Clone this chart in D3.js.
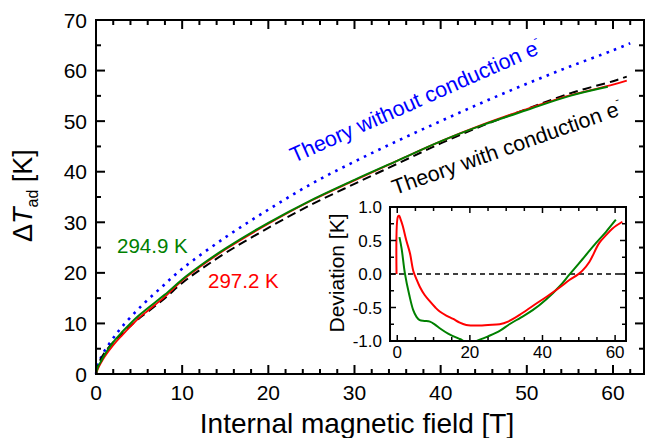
<!DOCTYPE html>
<html>
<head>
<meta charset="utf-8">
<script src="https://cdn.jsdelivr.net/npm/d3@7"></script>
<style>
  body { margin: 0; background: #fff; }
  text { font-family: Arial, "Liberation Sans", sans-serif; }
</style>
</head>
<body>
<script>
// main plot data (field in T, dT in K)
let theoryWithB = [0, 0.25, 0.5, 1, 2, 3, 4, 5, 6, 8, 10, 12, 15, 20, 25, 30, 35, 40, 45, 50, 55, 60, 61.6]
let theoryWith  = [0, 1.8, 2.8, 4.2, 6.3, 8.0, 9.5, 11.0, 12.3, 15.0, 18.0, 20.5, 23.9, 28.9, 33.5, 37.6, 41.6, 45.6, 49.2, 52.4, 55.5, 57.9, 58.8]

let theoryWithoutB = [0, 0.25, 0.5, 1, 2, 3, 5, 7.5, 10, 15, 20, 25, 30, 35, 40, 45, 50, 55, 60, 62]
let theoryWithout  = [0, 2.0, 3.0, 4.6, 7.1, 9.3, 13.0, 17.0, 20.8, 27.0, 32.5, 37.6, 42.0, 46.1, 50.0, 53.8, 57.4, 60.8, 64.0, 65.4]

let greenB = [0, 0.25, 0.5, 1, 2, 3, 4, 5, 6, 8, 10, 12, 15, 20, 25, 30, 35, 40, 45, 50, 55, 59.4]
let green  = [0, 1.5, 2.25, 3.8, 6.3, 8.25, 10.0, 11.6, 13.0, 15.7, 18.7, 21.3, 24.8, 29.9, 34.4, 38.4, 42.2, 46.0, 49.3, 52.2, 55.0, 56.8]

let redB = [0, 0.25, 0.5, 1, 2, 3, 4, 5, 6, 8, 10, 12, 15, 20, 25, 30, 35, 40, 45, 50, 55, 60, 61.6]
let red  = [0, 1.1, 1.95, 3.4, 5.7, 7.6, 9.4, 11.1, 12.5, 15.3, 18.5, 21.1, 24.6, 29.7, 34.3, 38.3, 42.2, 46.0, 49.4, 52.4, 55.1, 57.2, 58.0]

// inset data (deviation in K)
let devGreenB = [0.6, 1.2, 2.1, 3.3, 4.4, 5.3, 6.2, 7.5, 9.0, 10.5, 11.7, 14, 17.2, 20, 22.7, 25, 28.2, 30.9, 34, 37.3, 41, 44.6, 47.4, 51, 54.7, 57.5, 60.2]
let devGreen  = [0.55, 0.38, 0.01, -0.31, -0.54, -0.64, -0.69, -0.7, -0.71, -0.76, -0.81, -0.89, -0.97, -1.03, -0.98, -0.93, -0.85, -0.75, -0.65, -0.54, -0.38, -0.19, -0.01, 0.22, 0.46, 0.63, 0.81]

let devRedB = [-0.2, 0.2, 0.5, 0.9, 1.5, 2.5, 3.5, 4.4, 5.3, 6.2, 7.5, 9.0, 10.5, 11.7, 13.5, 15.4, 17, 19, 22.7, 25, 28.2, 30.5, 33.7, 37.5, 41.9, 45, 47.4, 49.7, 51, 52.9, 55.6, 57.5, 59.3, 62]
let devRed  = [0, 0.86, 0.87, 0.82, 0.72, 0.5, 0.31, 0.05, -0.08, -0.19, -0.31, -0.41, -0.5, -0.56, -0.62, -0.67, -0.72, -0.76, -0.77, -0.76, -0.75, -0.71, -0.61, -0.47, -0.31, -0.19, -0.09, -0.01, 0.05, 0.18, 0.46, 0.58, 0.68, 0.78]

let xTicks = [0, 10, 20, 30, 40, 50, 60]
let yTicks = [0, 10, 20, 30, 40, 50, 60, 70]
let insetXTicks = [0, 20, 40, 60]
let insetYTicks = [1.0, 0.5, 0.0, -0.5, -1.0]

var svg = d3.select("body").append("svg")
  .attr("width", 645)
  .attr("height", 438)

let zip = (a, b) => a.map((d, i) => [d, b[i]])

// main scales
let x = d3.scaleLinear().domain([0, 63.6]).range([96, 644])
let y = d3.scaleLinear().domain([0, 70]).range([374, 20])

let line = d3.line().x(d => x(d[0])).y(d => y(d[1])).curve(d3.curveCatmullRom)

// curves
svg.append("path").attr("d", line(zip(theoryWithoutB, theoryWithout)))
  .attr("fill", "none").attr("stroke", "#0000ff").attr("stroke-width", 2.6)
  .attr("stroke-dasharray", "2.6,5.4")
svg.append("path").attr("d", line(zip(theoryWithB, theoryWith)))
  .attr("fill", "none").attr("stroke", "#000").attr("stroke-width", 2)
  .attr("stroke-dasharray", "9,5")
svg.append("path").attr("d", line(zip(redB, red)))
  .attr("fill", "none").attr("stroke", "#ff0000").attr("stroke-width", 1.8)
svg.append("path").attr("d", line(zip(greenB, green)))
  .attr("fill", "none").attr("stroke", "#008000").attr("stroke-width", 2)

// ticks, inward on all four sides
let minorX = d3.range(0, 64, 2)
let minorY = d3.range(0, 71, 5)
minorX.forEach(t => {
  let len = t % 10 == 0 ? 9 : 5
  svg.append("line").attr("x1", x(t)).attr("x2", x(t)).attr("y1", 374).attr("y2", 374 - len)
    .attr("stroke", "#000").attr("stroke-width", 2)
  svg.append("line").attr("x1", x(t)).attr("x2", x(t)).attr("y1", 20).attr("y2", 20 + len)
    .attr("stroke", "#000").attr("stroke-width", 2)
})
minorY.forEach(t => {
  let len = t % 10 == 0 ? 9 : 5
  svg.append("line").attr("x1", 96).attr("x2", 96 + len).attr("y1", y(t)).attr("y2", y(t))
    .attr("stroke", "#000").attr("stroke-width", 2)
  svg.append("line").attr("x1", 644).attr("x2", 644 - len).attr("y1", y(t)).attr("y2", y(t))
    .attr("stroke", "#000").attr("stroke-width", 2)
})

svg.append("rect").attr("x", 96).attr("y", 20).attr("width", 548).attr("height", 354)
  .attr("fill", "none").attr("stroke", "#000").attr("stroke-width", 2)

// tick labels
xTicks.forEach(t => {
  svg.append("text").attr("x", x(t)).attr("y", 400).attr("text-anchor", "middle")
    .attr("font-size", 21).text(t)
})
yTicks.forEach(t => {
  svg.append("text").attr("x", 87).attr("y", y(t)).attr("dy", "0.36em").attr("text-anchor", "end")
    .attr("font-size", 21).text(t)
})

// axis titles
svg.append("text").attr("x", 357).attr("y", 433).attr("text-anchor", "middle")
  .attr("font-size", 28).text("Internal magnetic field [T]")

let yt = svg.append("text").attr("transform", "translate(32,242) rotate(-90)")
  .attr("font-size", 27)
yt.append("tspan").text("\u0394")
yt.append("tspan").attr("font-style", "italic").text("T")
yt.append("tspan").attr("font-size", 16).attr("dy", 6).text("ad")
yt.append("tspan").attr("dy", -6).text(" [K]")

// annotations
let tb = svg.append("text").attr("transform", "translate(294,163) rotate(-24)")
  .attr("font-size", 21.5).attr("fill", "#0000ff")
tb.append("tspan").text("Theory without conduction e")
tb.append("tspan").attr("font-size", 12).attr("dy", -12).text("-")

let tk = svg.append("text").attr("transform", "translate(395,195) rotate(-19.5)")
  .attr("font-size", 21.5).attr("fill", "#000")
tk.append("tspan").text("Theory with conduction e")
tk.append("tspan").attr("font-size", 12).attr("dy", -12).text("-")

svg.append("text").attr("x", 117).attr("y", 253).attr("font-size", 20.5).attr("fill", "#008000").text("294.9 K")
svg.append("text").attr("x", 208).attr("y", 288).attr("font-size", 20.5).attr("fill", "#ff0000").text("297.2 K")

// inset
let ix = d3.scaleLinear().domain([-2, 63]).range([390, 626])
let iy = d3.scaleLinear().domain([-1, 1]).range([341, 207])
let iline = d3.line().x(d => ix(d[0])).y(d => iy(d[1])).curve(d3.curveCatmullRom)

svg.append("rect").attr("x", 390).attr("y", 207).attr("width", 236).attr("height", 134)
  .attr("fill", "#fff")

svg.append("clipPath").attr("id", "insetClip").append("rect")
  .attr("x", 390).attr("y", 207).attr("width", 236).attr("height", 134)

let ig = svg.append("g").attr("clip-path", "url(#insetClip)")
ig.append("line").attr("x1", 390).attr("x2", 626).attr("y1", iy(0)).attr("y2", iy(0))
  .attr("stroke", "#000").attr("stroke-width", 1.5).attr("stroke-dasharray", "5,4")
ig.append("path").attr("d", iline(zip(devGreenB, devGreen)))
  .attr("fill", "none").attr("stroke", "#008000").attr("stroke-width", 2)
ig.append("path").attr("d", iline(zip(devRedB, devRed)))
  .attr("fill", "none").attr("stroke", "#ff0000").attr("stroke-width", 2)

d3.range(0, 63, 5).forEach(t => {
  let len = t % 20 == 0 ? 6 : 4
  svg.append("line").attr("x1", ix(t)).attr("x2", ix(t)).attr("y1", 341).attr("y2", 341 - len)
    .attr("stroke", "#000").attr("stroke-width", 1.5)
  svg.append("line").attr("x1", ix(t)).attr("x2", ix(t)).attr("y1", 207).attr("y2", 207 + len)
    .attr("stroke", "#000").attr("stroke-width", 1.5)
})
d3.range(-1, 1.01, 0.25).forEach(t => {
  let len = Math.abs(t * 2 - Math.round(t * 2)) < 0.01 ? 6 : 4
  svg.append("line").attr("x1", 390).attr("x2", 390 + len).attr("y1", iy(t)).attr("y2", iy(t))
    .attr("stroke", "#000").attr("stroke-width", 1.5)
  svg.append("line").attr("x1", 626).attr("x2", 626 - len).attr("y1", iy(t)).attr("y2", iy(t))
    .attr("stroke", "#000").attr("stroke-width", 1.5)
})

svg.append("rect").attr("x", 390).attr("y", 207).attr("width", 236).attr("height", 134)
  .attr("fill", "none").attr("stroke", "#000").attr("stroke-width", 2)

insetXTicks.forEach(t => {
  svg.append("text").attr("x", ix(t)).attr("y", 358).attr("text-anchor", "middle")
    .attr("font-size", 17).text(t)
})
insetYTicks.forEach(t => {
  svg.append("text").attr("x", 382).attr("y", iy(t)).attr("dy", "0.36em").attr("text-anchor", "end")
    .attr("font-size", 17).text(t.toFixed(1))
})

svg.append("text").attr("transform", "translate(344,273) rotate(-90)").attr("text-anchor", "middle")
  .attr("font-size", 21).text("Deviation [K]")
</script>
</body>
</html>
